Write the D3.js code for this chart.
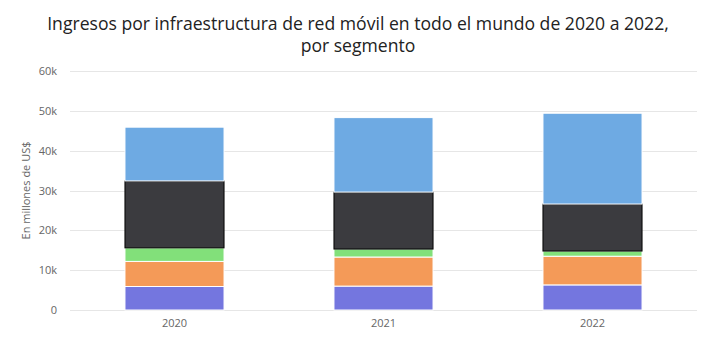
<!DOCTYPE html>
<html>
<head>
<meta charset="utf-8">
<script src="https://cdn.jsdelivr.net/npm/d3@7"></script>
<style>
  html, body { margin: 0; padding: 0; background: #fff; }
  svg { display: block; }
</style>
</head>
<body>
<svg id="chart" width="720" height="340"></svg>
<script>
// Revenue by segment, in million US$
const years = ["2020", "2021", "2022"];
const segments = ["Segmento 1", "Segmento 2", "Segmento 3", "Segmento 4", "Segmento 5"];
const seg1 = [5900, 6000, 6300];
const seg2 = [6300, 7300, 7200];
const seg3 = [3400, 2000, 1300];
const seg4 = [16800, 14300, 11800];
const seg5 = [13500, 18700, 22800];
const yTicks = [0, 10000, 20000, 30000, 40000, 50000, 60000];
const colors = ["#7476df", "#f49a58", "#82e07a", "#3b3b3f", "#6eaae3"];
const titleLines = [
  "Ingresos por infraestructura de red móvil en todo el mundo de 2020 a 2022,",
  "por segmento"
];

const seriesValues = [seg1, seg2, seg3, seg4, seg5];
const rows = years.map((y, i) => {
  const r = { year: y };
  segments.forEach((s, k) => { r[s] = seriesValues[k][i]; });
  return r;
});

const svg = d3.select("#chart");
const margin = { left: 70, right: 23, top: 71, bottom: 30 };
const W = 720, H = 340;

const x = d3.scaleBand()
  .domain(years)
  .range([margin.left, W - margin.right])
  .paddingInner(0.526)
  .paddingOuter(0.263);

const y = d3.scaleLinear()
  .domain([0, 60000])
  .range([H - margin.bottom, margin.top]);

// Title, two lines
svg.append("g")
  .selectAll("text")
  .data(titleLines)
  .join("text")
  .attr("x", 358)
  .attr("y", (d, i) => 30 + i * 22)
  .attr("text-anchor", "middle")
  .attr("font-family", "'Open Sans', sans-serif")
  .attr("font-size", 17.6)
  .attr("fill", "#222")
  .text(d => d);

// Gridlines
svg.append("g")
  .selectAll("line")
  .data(yTicks)
  .join("line")
  .attr("x1", margin.left)
  .attr("x2", W - margin.right)
  .attr("y1", d => Math.round(y(d)) + 0.5)
  .attr("y2", d => Math.round(y(d)) + 0.5)
  .attr("stroke", "#e6e6e6")
  .attr("stroke-width", 1);

// Y axis labels
const yAxis = svg.append("g")
  .attr("transform", `translate(${margin.left},0)`)
  .call(d3.axisLeft(y).tickValues(yTicks)
    .tickFormat(d => d === 0 ? "0" : (d / 1000) + "k")
    .tickSize(0).tickPadding(13));
yAxis.select(".domain").remove();
yAxis.selectAll("text")
  .attr("font-family", "'Open Sans', sans-serif")
  .attr("font-size", 11)
  .attr("fill", "#666");

// Y axis title
svg.append("text")
  .attr("transform", `translate(30,${(y(0) + y(60000)) / 2}) rotate(-90)`)
  .attr("text-anchor", "middle")
  .attr("font-family", "'Open Sans', sans-serif")
  .attr("font-size", 11)
  .attr("fill", "#666")
  .text("En millones de US$");

// Stacked bars
const stack = d3.stack().keys(segments)(rows);
svg.append("g")
  .selectAll("g")
  .data(stack)
  .join("g")
  .attr("fill", (d, i) => colors[i])
  .selectAll("rect")
  .data(d => d)
  .join("rect")
  .attr("x", d => x(d.data.year))
  .attr("width", x.bandwidth())
  .attr("y", d => y(d[1]))
  .attr("height", d => y(d[0]) - y(d[1]))
  .attr("stroke", function () {
    return d3.select(this.parentNode).datum().key === "Segmento 4" ? "#000" : "#fff";
  })
  .attr("stroke-width", 1);

// X axis labels
const xAxis = svg.append("g")
  .attr("transform", `translate(0,${y(0)})`)
  .call(d3.axisBottom(x).tickSize(0).tickPadding(9));
xAxis.select(".domain").remove();
xAxis.selectAll("text")
  .attr("font-family", "'Open Sans', sans-serif")
  .attr("font-size", 11)
  .attr("fill", "#666");
</script>
</body>
</html>
